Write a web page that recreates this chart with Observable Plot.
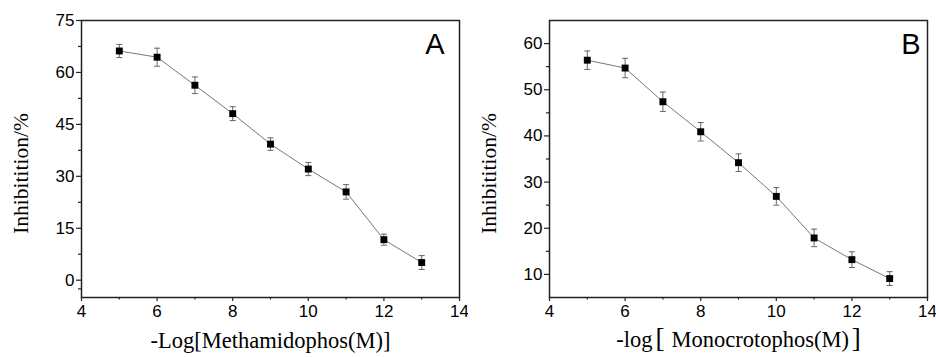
<!DOCTYPE html>
<html>
<head>
<meta charset="utf-8">
<script src="https://cdn.jsdelivr.net/npm/d3@7"></script>
<script src="https://cdn.jsdelivr.net/npm/@observablehq/plot@0.6"></script>
<style>
  html, body { margin: 0; padding: 0; background: #fff; }
  #wrap { display: flex; width: 936px; height: 357px; }
  #wrap svg { display: block; }
</style>
</head>
<body>
<div id="wrap"></div>
<script>
// ---- data ----
const concentration = [5, 6, 7, 8, 9, 10, 11, 12, 13];
const inhibitionA = [66.2, 64.4, 56.3, 48.1, 39.3, 32.1, 25.5, 11.7, 5.1];
const errorA = [1.9, 2.6, 2.4, 2.0, 1.8, 1.9, 2.1, 1.6, 2.0];
const inhibitionB = [56.4, 54.7, 47.4, 40.9, 34.2, 26.9, 17.9, 13.2, 9.1];
const errorB = [2.0, 2.1, 2.1, 2.0, 1.9, 1.9, 1.9, 1.7, 1.5];

const xTicks = [4, 6, 8, 10, 12, 14];
const xMinorTicks = [5, 7, 9, 11, 13];
const yTicksA = [0, 15, 30, 45, 60, 75];
const yMinorTicksA = [-2.5, 7.5, 22.5, 37.5, 52.5, 67.5];
const yTicksB = [10, 20, 30, 40, 50, 60];
const yMinorTicksB = [15, 25, 35, 45, 55];

const xTitleA = "-Log[Methamidophos(M)]";
const xTitleB = "-log[Monocrotophos(M)]";
const yTitle = "Inhibitition/%";

// ---- helpers ----
const sans = "'Liberation Sans', Arial, sans-serif";
const serif = "'Liberation Serif', 'Times New Roman', serif";
const cap = { draw(ctx) { ctx.moveTo(-3, 0); ctx.lineTo(3, 0); } };
const ink = "#222";

function panel({values, errors, yDomain, yTicks, yMinor, letter, letterDx, xTitle, xTitleDy}) {
  const data = concentration.map((x, i) => ({x, v: values[i], e: errors[i]}));
  return Plot.plot({
    width: 468,
    height: 357,
    marginLeft: 81,
    marginRight: 9,
    marginTop: 20,
    marginBottom: 60,
    style: {background: "#fff", color: "#111"},
    x: {domain: [4, 14]},
    y: {domain: yDomain},
    marks: [
      Plot.axisX(xTicks, {tickSize: 4, tickPadding: 3, fontSize: 17, fontFamily: sans, label: null, stroke: ink, strokeWidth: 1.2, fill: "#000"}),
      Plot.axisX(xMinorTicks, {tickSize: 2.5, text: null, label: null, stroke: ink, strokeWidth: 1.2}),
      Plot.axisY(yTicks, {tickSize: 5, tickPadding: 2, fontSize: 17, fontFamily: sans, label: null, stroke: ink, strokeWidth: 1.2, fill: "#000"}),
      Plot.axisY(yMinor, {tickSize: 3, text: null, label: null, stroke: ink, strokeWidth: 1.2}),
      Plot.frame({stroke: ink, strokeWidth: 1.5}),
      Plot.ruleX(data, {x: "x", y1: d => d.v - d.e, y2: d => d.v + d.e, stroke: "#666", strokeWidth: 1}),
      Plot.dot(data, {x: "x", y: d => d.v + d.e, symbol: cap, stroke: "#666", strokeWidth: 1}),
      Plot.dot(data, {x: "x", y: d => d.v - d.e, symbol: cap, stroke: "#666", strokeWidth: 1}),
      Plot.line(data, {x: "x", y: "v", stroke: "#777", strokeWidth: 1}),
      Plot.dot(data, {x: "x", y: "v", symbol: "square", r: 3.9, fill: "#000", stroke: "none"}),
      Plot.text([letter], {frameAnchor: "top-right", textAnchor: "end", lineAnchor: "top", dx: letterDx, dy: 13, fontSize: 29, fontFamily: sans, fill: "#000"}),
      Plot.text([xTitle], {frameAnchor: "bottom", textAnchor: "middle", lineAnchor: "middle", dy: xTitleDy, fontSize: 22.5, fontFamily: serif, fill: "#000", className: "xtitle"}),
      Plot.text([yTitle], {frameAnchor: "left", textAnchor: "middle", lineAnchor: "middle", rotate: -90, dx: -60, dy: 14.5, fontSize: 21.5, fontFamily: serif, fill: "#000"})
    ]
  });
}

const wrap = document.getElementById("wrap");
wrap.appendChild(panel({
  values: inhibitionA, errors: errorA, yDomain: [-5, 75], yTicks: yTicksA, yMinor: yMinorTicksA,
  letter: "A", letterDx: -15, xTitle: xTitleA, xTitleDy: 43.5
}));
const svgB = panel({
  values: inhibitionB, errors: errorB, yDomain: [5, 65], yTicks: yTicksB, yMinor: yMinorTicksB,
  letter: "B", letterDx: -7, xTitle: xTitleB, xTitleDy: 42.5
});
wrap.appendChild(svgB);

// panel B's title uses tall, spaced brackets
d3.select(svgB).selectAll(".xtitle text").each(function() {
  const t = d3.select(this);
  const s = t.text();
  const i = s.indexOf("["), j = s.lastIndexOf("]");
  if (i < 0 || j < 0) return;
  t.text(null);
  t.append("tspan").text(s.slice(0, i));
  t.append("tspan").attr("dx", 3).attr("font-size", 27).text(s.slice(i, i + 1));
  t.append("tspan").attr("dx", 7).text(s.slice(i + 1, j));
  t.append("tspan").attr("dx", 3).attr("font-size", 27).text(s.slice(j));
});
</script>
</body>
</html>
